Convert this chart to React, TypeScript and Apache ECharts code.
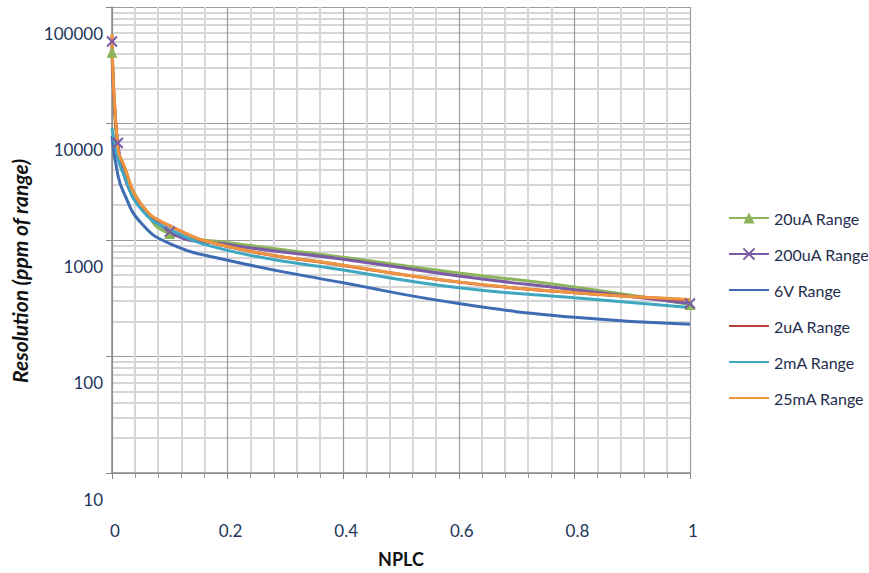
import React, { useEffect, useRef } from 'react';
import * as echarts from 'echarts';

// NPLC sample positions (x axis)
const nplc = [0, 0.01, 0.02, 0.05, 0.1, 0.2, 0.4, 0.6, 0.8, 1];
const nplc200uA = [0, 0.01, 0.1, 0.2, 0.4, 0.6, 0.8, 1];

// Resolution (ppm of range)
const res20uA = [40800, 5940, 4190, 2040, 1135, 953, 711, 521, 396, 279];
const res200uA = [50600, 6810, 1180, 916, 684, 491, 374, 285];
const res6V = [7800, 3650, 2570, 1406, 933, 671, 429, 285, 217, 189];
const res2uA = [57000, 6100, 4400, 2030, 1320, 878, 605, 435, 352, 306];
const res2mA = [9120, 5080, 3650, 1850, 1227, 815, 552, 389, 320, 264];
const res25mA = [58000, 6180, 4440, 2040, 1327, 881, 608, 437, 353, 308];

// points that carry a marker
const markers20uA = [0, 0.1, 1];
const markers200uA = [0, 0.01, 0.1, 1];

const seriesNames = ['20uA Range', '200uA Range', '6V Range', '2uA Range', '2mA Range', '25mA Range'];
const markedSeries = ['20uA Range', '200uA Range'];
const yTicks = [10, 100, 1000, 10000, 100000];
const yTitle = 'Resolution (ppm of range)';

const FONT = 'Lato, "Open Sans", sans-serif';
const LABEL_COLOR = '#22355a';

function build(xs: number[], ys: number[], marks?: number[]) {
  return xs.map((x, i) => {
    const item: any = { value: [x, ys[i]] };
    if (!marks || marks.indexOf(x) < 0) item.symbol = 'none';
    return item;
  });
}

export default function App() {
  const ref = useRef<HTMLDivElement>(null);
  useEffect(() => {
    if (!ref.current) return;
    const chart = echarts.init(ref.current, undefined, { renderer: 'svg' });
    const lineBase = (name: string, color: string, data: any[], extra: any = {}) => ({
      name,
      type: 'line',
      data,
      smooth: 0.5,
      symbol: 'none',
      lineStyle: { color, width: 3 },
      itemStyle: { color },
      emphasis: { disabled: true },
      ...extra,
    });
    chart.setOption({
      animation: false,
      backgroundColor: '#ffffff',
      grid: { left: 112, right: 179, top: 7, bottom: 93, containLabel: false },
      legend: {
        orient: 'vertical',
        left: 723,
        top: 204,
        itemWidth: 40,
        itemHeight: 14,
        itemGap: 18,
        data: seriesNames.map((n) =>
          markedSeries.indexOf(n) >= 0 ? { name: n } : { name: n, itemStyle: { opacity: 0 } }
        ),
        textStyle: { fontFamily: FONT, fontSize: 16, color: '#1f2d4d', lineHeight: 18 },
      },
      graphic: [
        {
          type: 'text',
          x: 19,
          y: 271,
          rotation: Math.PI / 2,
          style: {
            text: yTitle,
            fontFamily: FONT,
            fontWeight: 'bold',
            fontStyle: 'italic',
            fontSize: 21,
            fill: '#111',
            align: 'center',
            verticalAlign: 'middle',
          },
        },
      ],
      xAxis: {
        type: 'value',
        min: 0,
        max: 1,
        interval: 0.2,
        name: 'NPLC',
        nameLocation: 'middle',
        nameGap: 77,
        nameTextStyle: { fontFamily: FONT, fontWeight: 'bold', fontSize: 18, color: '#111', verticalAlign: 'top' },
        axisLine: { lineStyle: { color: '#8a8a8a', width: 1.5 } },
        axisTick: { show: true, length: 6, lineStyle: { color: '#8a8a8a' } },
        minorTick: { show: true, splitNumber: 5, length: 5, lineStyle: { color: '#9a9a9a' } },
        axisLabel: {
          margin: 49,
          fontFamily: FONT,
          fontSize: 17,
          color: LABEL_COLOR,
          padding: [0, 0, 0, 6],
          formatter: (v: number) => String(Math.round(v * 10) / 10),
        },
        splitLine: { show: true, lineStyle: { color: '#9c9c9c', width: 1.2 } },
        minorSplitLine: { show: true, lineStyle: { color: '#d6d6d6', width: 2 } },
      },
      yAxis: {
        type: 'log',
        logBase: 10,
        min: yTicks[0],
        max: yTicks[yTicks.length - 1],
        axisLine: { show: true, lineStyle: { color: '#8a8a8a', width: 1.5 } },
        axisTick: { show: true, length: 6, lineStyle: { color: '#8a8a8a' } },
        minorTick: { show: false, splitNumber: 9 },
        axisLabel: {
          margin: 9,
          fontFamily: FONT,
          fontSize: 17,
          color: LABEL_COLOR,
          verticalAlign: 'top',
          lineHeight: 52,
          formatter: (v: number) => String(Math.round(v)),
        },
        splitLine: { show: true, lineStyle: { color: '#9c9c9c', width: 1.2 } },
        minorSplitLine: { show: true, lineStyle: { color: '#d6d6d6', width: 2 } },
      },
      series: [
        lineBase('20uA Range', '#8cb45a', build(nplc, res20uA, markers20uA), {
          symbol: 'triangle',
          symbolSize: 11,
        }),
        lineBase('200uA Range', '#7b5ba5', build(nplc200uA, res200uA, markers200uA), {
          symbol: 'path://M0,0L10,10M10,0L0,10',
          symbolSize: 10,
          itemStyle: { color: '#7b5ba5', borderColor: '#7b5ba5', borderWidth: 2 },
        }),
        lineBase('6V Range', '#3e6cb4', build(nplc, res6V)),
        lineBase('2uA Range', '#b5423e', build(nplc, res2uA)),
        lineBase('2mA Range', '#3fa8c0', build(nplc, res2mA)),
        lineBase('25mA Range', '#f0953f', build(nplc, res25mA)),
      ],
    });
    return () => chart.dispose();
  }, []);
  return (
    <div
      ref={ref}
      style={{ position: 'fixed', left: 0, top: 0, width: 869, height: 573, background: '#fff' }}
    />
  );
}
